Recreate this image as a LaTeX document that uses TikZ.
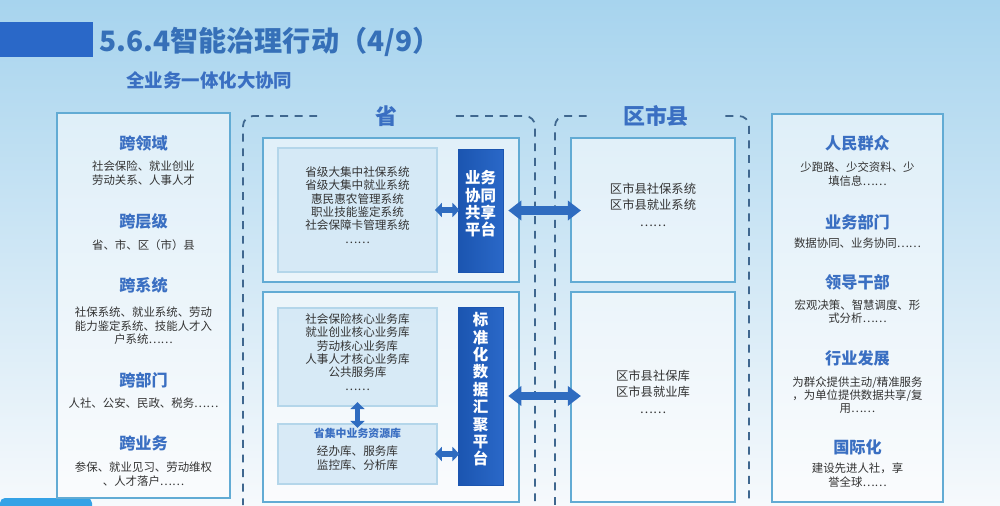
\documentclass[tikz,border=0pt]{standalone}
\usepackage{fontspec}
\setmainfont{Noto Sans CJK SC}
\usetikzlibrary{arrows.meta,calc,positioning,fit}
\definecolor{slidetop}{HTML}{A7D4EE}
\definecolor{slidemid}{HTML}{D9ECF7}
\definecolor{slidebot}{HTML}{F6F9FC}
\definecolor{panelline}{HTML}{62ABD4}
\definecolor{softline}{HTML}{B4D6EA}
\definecolor{softfill}{HTML}{D3E8F6}
\definecolor{headblue}{HTML}{3A6FC2}
\definecolor{titleblue}{HTML}{3670B8}
\definecolor{barblue}{HTML}{2A68C8}
\definecolor{bardeep}{HTML}{1B55B0}
\definecolor{arrowblue}{HTML}{2F6CC0}
\definecolor{dashgrey}{HTML}{3F678F}
\definecolor{bodygrey}{HTML}{333333}
\definecolor{footblue}{HTML}{35A2E6}
\newcommand\headfont{\fontsize{9.2}{11}\selectfont\bfseries}
\newcommand\bodyfont{\fontsize{6.5}{7.6}\selectfont}
\newcommand\barfont{\fontsize{8.8}{9.9}\selectfont\bfseries}
\newcommand\regionfont{\fontsize{12.5}{14}\selectfont\bfseries}
\tikzset{
  panel/.style={
    draw=panelline,
    line width=1.1pt,
    fill=white,
    fill opacity=0.55,
    text opacity=1,
    inner sep=0pt
  },
  softpanel/.style={
    draw=softline,
    line width=0.6pt,
    fill=softfill,
    fill opacity=0.85,
    text opacity=1,
    inner sep=0pt,
    align=center,
    text=bodygrey,
    font=\fontsize{6.6}{7.6}\selectfont
  },
  platbar/.style={
    draw=bardeep,
    line width=0.4pt,
    left color=bardeep,
    right color=barblue,
    inner sep=0pt,
    align=center,
    text=white,
    font=\barfont
  },
  headtxt/.style={text=headblue, font=\headfont, inner sep=0pt},
  bodytxt/.style={text=bodygrey, font=\bodyfont, align=center, inner sep=0pt},
  regionlbl/.style={text=headblue, font=\regionfont, minimum width=27.6mm, inner sep=0pt},
  regionline/.style={draw=dashgrey, line width=1pt, dash pattern=on 4.5pt off 3.8pt, rounded corners=2mm},
  bigarrow/.style={draw=arrowblue, line width=5pt,
    {Triangle[width=11pt,length=7.5pt]}-{Triangle[width=11pt,length=7.5pt]}},
  smallarrow/.style={draw=arrowblue, line width=3.2pt,
    {Triangle[width=8pt,length=4pt]}-{Triangle[width=8pt,length=4pt]}}
}
\begin{document}
\begin{tikzpicture}[
  x=0.02cm, y=-0.02cm,
  countytxt/.style={align=center, text=bodygrey, font=\fontsize{7}{9.4}\selectfont},
  titlebarbox/.style={fill=barblue, inner sep=0pt}
]
  \useasboundingbox (0,0) rectangle (1000,505);
  \shade[top color=slidetop, middle color=slidemid, bottom color=slidebot] (0,0) rectangle (1000,505);
  \fill[footblue, rounded corners=1mm] (0,498) rectangle (92,515);

  % title
  \node[titlebarbox, fit={(0,22) (93,57)}] (titlebar) {};
  \node[anchor=west, inner sep=0pt, text=titleblue, font=\fontsize{16}{18}\selectfont\bfseries] (title) at (99,42) {5.6.4智能治理行动（4/9）};
  \node[anchor=west, inner sep=0pt, text=headblue, font=\fontsize{10.5}{12}\selectfont\bfseries] (subtitle) at (126,80) {全业务一体化大协同};

  % left column
  \node[panel, fit={(57,113) (230,498)}] (leftpanel) {};
  \node[headtxt] (kly) at (143.5,143) {跨领域};
  \node[bodytxt] (klytxt) at (143.5,173) {社会保险、就业创业\\劳动关系、人事人才};
  \node[headtxt] (kcj) at (143.5,221) {跨层级};
  \node[bodytxt] (kcjtxt) at (143.5,245) {省、市、区（市）县};
  \node[headtxt] (kxt) at (143.5,285) {跨系统};
  \node[bodytxt] (kxttxt) at (143.5,326) {社保系统、就业系统、劳动\\能力鉴定系统、技能人才入\\户系统……};
  \node[headtxt] (kbm) at (143.5,380) {跨部门};
  \node[bodytxt] (kbmtxt) at (143.5,403) {人社、公安、民政、税务……};
  \node[headtxt] (kyw) at (143.5,443) {跨业务};
  \node[bodytxt] (kywtxt) at (143.5,474) {参保、就业见习、劳动维权\\、人才落户……};

  % province
  \node[regionlbl] (provlbl) at (386.5,116) {省};
  \draw[regionline] (provlbl.west) -| (243,505);
  \draw[regionline] (provlbl.east) -| (535,505);
  \node[panel, fit={(263,138) (519,282)}] (provtop) {};
  \node[softpanel, fit={(278,148) (437,272)}] (provsys) {省级大集中社保系统\\省级大集中就业系统\\惠民惠农管理系统\\职业技能鉴定系统\\社会保障卡管理系统\\……};
  \node[platbar, fit={(458,149) (503,272)}] (sharebar) {业务\\协同\\共享\\平台};
  \node[panel, fit={(263,292) (519,502)}] (provbot) {};
  \node[softpanel, fit={(278,308) (437,406)}] (provcore) {社会保险核心业务库\\就业创业核心业务库\\劳动核心业务库\\人事人才核心业务库\\公共服务库\\……};
  \node[softpanel, fit={(278,424) (437,484)}] (provres) {{\color{headblue}\bfseries\fontsize{6.2}{7}\selectfont 省集中业务资源库}\\[2.5pt]经办库、服务库\\监控库、分析库};
  \node[platbar, fit={(458,307) (503,485)}] (databar) {标\\准\\化\\数\\据\\汇\\聚\\平\\台};

  % county
  \node[regionlbl] (countylbl) at (656,116) {区市县};
  \draw[regionline] (countylbl.west) -| (555,505);
  \draw[regionline] (countylbl.east) -| (749,505);
  \node[panel, countytxt, fit={(571,138) (735,282)}] (countysys) {区市县社保系统\\区市县就业系统\\……};
  \node[panel, countytxt, fit={(571,292) (735,502)}] (countydb) {区市县社保库\\区市县就业库\\……};

  % right column
  \node[panel, fit={(772,114) (943,502)}] (rightpanel) {};
  \node[headtxt] (rmqz) at (857.5,143) {人民群众};
  \node[bodytxt] (rmqztxt) at (857.5,174) {少跑路、少交资料、少\\填信息……};
  \node[headtxt] (ywbm) at (857.5,222) {业务部门};
  \node[bodytxt] (ywbmtxt) at (857.5,243) {数据协同、业务协同……};
  \node[headtxt] (ldgb) at (857.5,282) {领导干部};
  \node[bodytxt] (ldgbtxt) at (857.5,311.5) {宏观决策、智慧调度、形\\式分析……};
  \node[headtxt] (hyfz) at (857.5,358) {行业发展};
  \node[bodytxt] (hyfztxt) at (857.5,395) {为群众提供主动/精准服务\\，为单位提供数据共享/复\\用……};
  \node[headtxt] (gjh) at (857.5,447) {国际化};
  \node[bodytxt] (gjhtxt) at (857.5,475) {建设先进人社，享\\誉全球……};

  % arrows
  \draw[smallarrow, shorten <=-1.5pt, shorten >=-1pt] (provsys.east) -- (provsys.east -| sharebar.west);
  \draw[bigarrow, shorten <=2.8pt, shorten >=-6.2pt] (sharebar.east) -- (sharebar.east -| countysys.west);
  \draw[smallarrow, shorten <=-2.5pt, shorten >=-2.5pt] (provcore.south) -- (provres.north);
  \draw[smallarrow, shorten <=-1.5pt, shorten >=-1pt] (provres.east) -- (provres.east -| databar.west);
  \draw[bigarrow, shorten <=2.8pt, shorten >=-6.2pt] (databar.east) -- (databar.east -| countydb.west);
\end{tikzpicture}
\end{document}
